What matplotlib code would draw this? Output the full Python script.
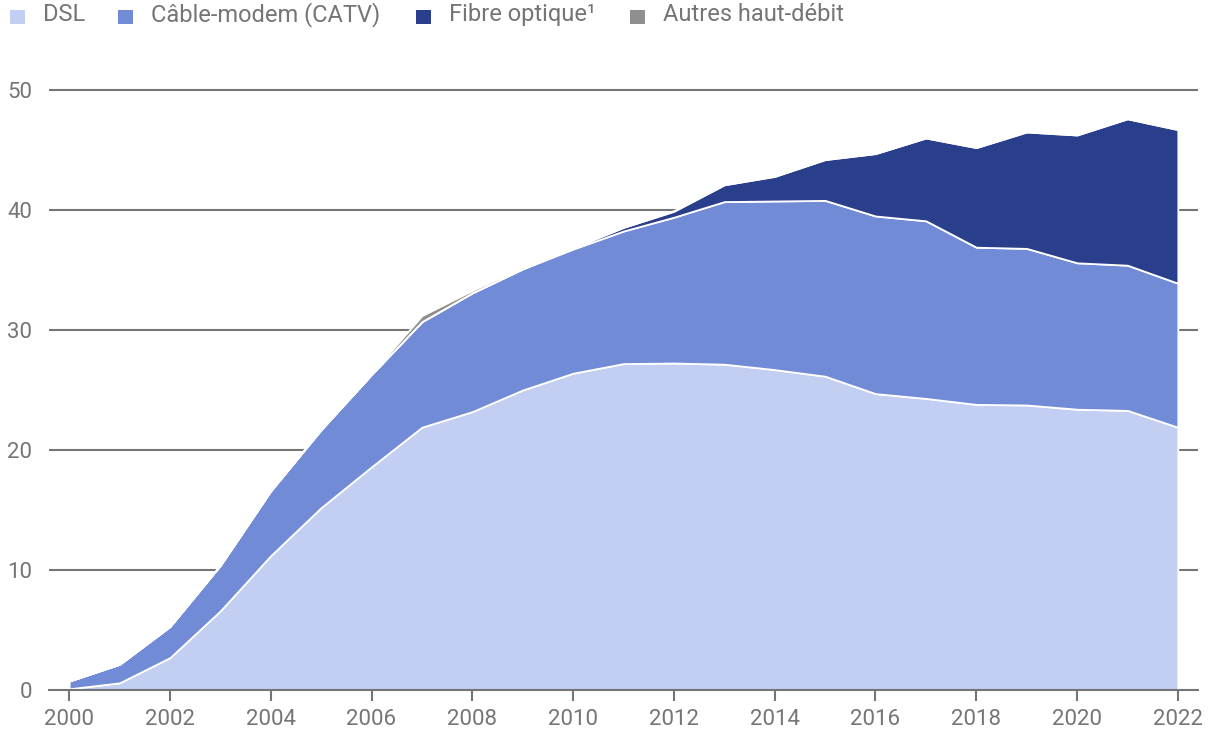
import matplotlib
matplotlib.use("Agg")
import matplotlib.pyplot as plt
import numpy as np

years = list(range(2000, 2023))
dsl = [0.1, 0.6, 2.7, 6.6, 11.2, 15.2, 18.6, 21.9, 23.2, 25.0, 26.4, 27.2, 27.25,
       27.15, 26.7, 26.15, 24.7, 24.3, 23.8, 23.75, 23.4, 23.3, 21.9]
cable_top = [0.75, 2.15, 5.3, 10.4, 16.6, 21.7, 26.3, 30.7, 33.1, 35.1, 36.75, 38.25, 39.4,
             40.7, 40.75, 40.8, 39.5, 39.1, 36.9, 36.8, 35.6, 35.4, 33.9]
cable = [round(c - d, 2) for c, d in zip(cable_top, dsl)]
fibre = [0, 0, 0, 0, 0, 0, 0, 0, 0, 0, 0.1, 0.3, 0.5,
         1.4, 2.05, 3.4, 5.2, 6.9, 8.3, 9.7, 10.65, 12.2, 12.8]
autres = [0, 0, 0, 0, 0.02, 0.05, 0.1, 0.5, 0.2, 0.15, 0.1, 0.05, 0.05,
          0.05, 0.05, 0.05, 0.05, 0.05, 0.1, 0.1, 0.05, 0.05, 0.05]

labels = ["DSL", "Câble-modem (CATV)", "Fibre optique¹", "Autres haut-débit"]
colors = ["#c2cef2", "#718bd6", "#2a3f8b", "#8f8f8f"]
xticks = list(range(2000, 2023, 2))
yticks = [0, 10, 20, 30, 40, 50]

plt.rcParams['font.family'] = ['Roboto', 'DejaVu Sans']
grey = "#757575"

fig = plt.figure(figsize=(12.2, 7.5), dpi=100)
W, H = 1220, 750
ax = fig.add_axes([49 / W, 1 - 690 / H, (1198 - 49) / W, (690 - 66) / H])

ax.set_xlim(1999.6, 2022.4)
ax.set_ylim(0, 52)

for yv in yticks[1:]:
    ax.axhline(yv, color=grey, lw=1.5, zorder=0)

ax.stackplot(years, dsl, cable, fibre, autres, colors=colors,
             edgecolor="white", linewidth=1.3, zorder=2)

for s in ["top", "right", "left"]:
    ax.spines[s].set_visible(False)
ax.spines["bottom"].set_color(grey)
ax.spines["bottom"].set_linewidth(1.5)
ax.spines["bottom"].set_zorder(3)

ax.set_xticks(xticks)
ax.set_xticklabels([str(x) for x in xticks])
ax.set_yticks(yticks)
ax.tick_params(axis="x", colors=grey, labelcolor=grey, length=8, width=1.5,
               labelsize=16, pad=6)
ax.tick_params(axis="y", length=0, labelcolor=grey, labelsize=16, pad=12)

# legend (partly clipped at top as in reference)
sq_x = [10, 118, 416, 630]
tx_x = [43, 151, 449, 663]
for lab, col, sx, tx in zip(labels, colors, sq_x, tx_x):
    fig.patches.append(matplotlib.patches.Rectangle(
        (sx / W, 1 - 24 / H), 15 / W, 14 / H, transform=fig.transFigure,
        facecolor=col, edgecolor="none"))
    fig.text(tx / W, 1 - 21 / H, lab, fontsize=17, color=grey,
             ha="left", va="baseline")

fig.savefig("out.png", dpi=100)
